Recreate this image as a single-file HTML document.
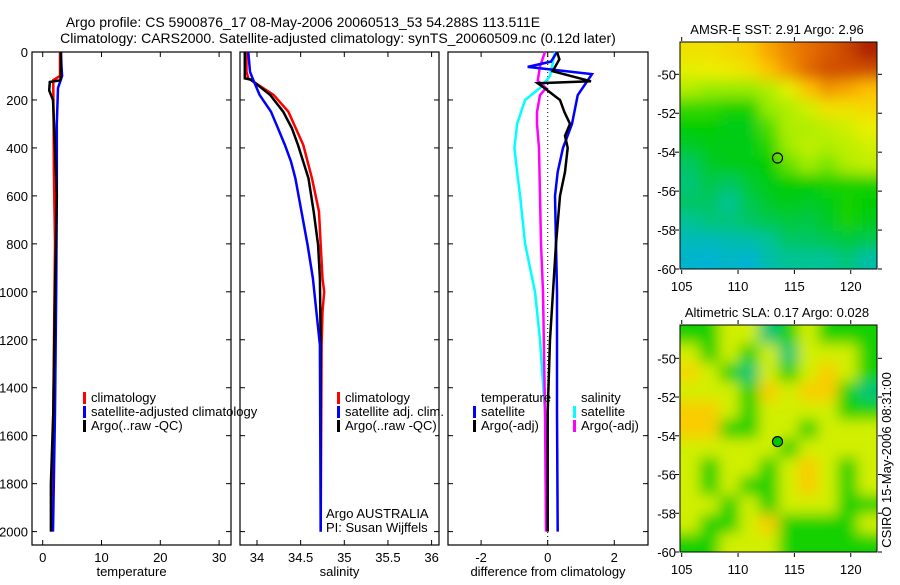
<!DOCTYPE html>
<html><head><meta charset="utf-8"><style>
body{margin:0;background:#fff;}
svg text{font-family:"Liberation Sans",sans-serif;fill:#000;}
</style></head><body>
<svg id="fig" xmlns="http://www.w3.org/2000/svg" width="900" height="580" viewBox="0 0 900 580">
<text x="303" y="27" font-size="14" text-anchor="middle">Argo profile: CS 5900876_17 08-May-2006 20060513_53 54.288S 113.511E</text>
<text x="338" y="43" font-size="14" text-anchor="middle">Climatology: CARS2000. Satellite-adjusted climatology: synTS_20060509.nc (0.12d later)</text>
<defs>
<filter id="blur" filterUnits="userSpaceOnUse" x="600" y="0" width="300" height="580"><feGaussianBlur stdDeviation="7"/></filter>
<clipPath id="c1"><rect x="680" y="42" width="197" height="227"/></clipPath>
<clipPath id="c2"><rect x="680" y="325" width="197" height="227"/></clipPath>
</defs>
<g id="plots"></g>
</svg>
<script>
// ---- data ----
const depthTicks=[0,200,400,600,800,1000,1200,1400,1600,1800,2000];
const tempTicks=[0,10,20,30];
const salTicks=[34,34.5,35,35.5,36];
const salTickLabels=["34","34.5","35","35.5","36"];
const diffTicks=[-2,0,2];
// temperature profiles
const tClimDepth=[0,100,117,150,300,500,800,1000,1500,2000];
const tClimVal=[2.95,2.95,1.8,1.8,1.85,1.9,2.1,2.0,1.8,1.5];
const tSatDepth=[0,60,100,150,300,600,1000,1500,2000];
const tSatVal=[3.1,3.2,3.3,2.6,2.4,2.4,2.3,2.1,1.75];
const tArgoDepth=[0,100,118,125,160,200,400,600,1000,1500,1800,2000];
const tArgoVal=[3.1,3.1,3.0,1.2,1.1,1.75,2.1,2.4,2.1,1.8,1.4,1.4];
// salinity profiles
const sClimDepth=[0,82,110,179,249,388,527,666,805,944,1000,1083,1222,2000];
const sClimVal=[33.88,33.88,33.9,34.19,34.36,34.53,34.63,34.71,34.73,34.75,34.77,34.75,34.74,34.73];
const sArgoDepth=[0,110,115,179,249,318,388,527,666,805,944,1222,2000];
const sArgoVal=[33.86,33.86,33.93,34.15,34.3,34.4,34.47,34.59,34.65,34.7,34.72,34.73,34.73];
const sSatDepth=[0,82,110,179,249,318,388,457,527,666,805,944,1083,1222,2000];
const sSatVal=[33.9,33.92,33.95,34.03,34.16,34.24,34.32,34.39,34.44,34.51,34.58,34.64,34.68,34.72,34.73];
// differences
const dTSatDepth=[0,40,62,92,180,300,400,500,600,1000,1500,2000];
const dTSatVal=[0.28,0.1,-0.6,1.33,0.9,0.73,0.46,0.3,0.22,0.28,0.28,0.3];
const dTArgoDepth=[0,30,80,122,130,150,200,250,300,350,400,500,600,800,1000,1200,1500,2000];
const dTArgoVal=[0.28,0.35,0.15,1.3,-0.3,-0.1,0.37,0.5,0.67,0.52,0.6,0.52,0.37,0.25,0.16,0.07,0.0,0.0];
const dSSatDepth=[0,100,150,200,300,400,500,600,800,1000,1200,1500,2000];
const dSSatVal=[0.22,0.07,-0.23,-0.68,-0.92,-1.0,-0.92,-0.83,-0.68,-0.38,-0.23,-0.08,0.0];
const dSArgoDepth=[0,60,120,150,180,250,300,400,600,800,1000,1500,2000];
const dSArgoVal=[-0.08,-0.23,-0.3,-0.05,-0.23,-0.32,-0.32,-0.26,-0.23,-0.2,-0.14,-0.08,-0.05];
// maps (rows: north->south, cols: west->east), normalised colour index
const sstGrid=[
[.68,.68,.7,.72,.78,.82,.85,.88,.92,.98],
[.64,.65,.66,.68,.74,.8,.86,.9,.9,.9],
[.58,.55,.55,.55,.58,.64,.74,.8,.78,.75],
[.45,.45,.42,.42,.55,.58,.62,.68,.68,.7],
[.4,.4,.38,.38,.48,.58,.58,.6,.62,.65],
[.36,.38,.38,.38,.44,.56,.6,.58,.6,.62],
[.3,.36,.38,.38,.4,.5,.56,.52,.58,.6],
[.28,.33,.3,.35,.38,.4,.4,.42,.42,.42],
[.3,.3,.25,.32,.36,.38,.36,.38,.42,.4],
[.25,.28,.28,.3,.32,.34,.33,.36,.42,.38],
[.15,.15,.18,.2,.25,.3,.3,.32,.34,.32],
[.1,.08,.12,.08,.2,.25,.25,.25,.28,.2]];
const slaGrid=[
[.42,.42,.62,.62,.28,.42,.62,.42,.42,.42],
[.62,.42,.62,.42,.62,.28,.62,.62,.62,.42],
[.7,.62,.42,.28,.62,.42,.62,.72,.62,.42],
[.62,.62,.62,.42,.72,.62,.72,.72,.42,.28],
[.72,.72,.62,.42,.62,.62,.62,.62,.42,.42],
[.72,.72,.42,.42,.62,.62,.42,.62,.62,.62],
[.62,.62,.62,.62,.62,.42,.62,.62,.62,.62],
[.62,.42,.62,.62,.42,.62,.72,.62,.42,.62],
[.62,.42,.62,.42,.42,.62,.72,.62,.42,.62],
[.62,.62,.42,.62,.42,.62,.62,.62,.42,.42],
[.62,.42,.42,.62,.72,.42,.42,.42,.42,.62],
[.42,.42,.62,.62,.62,.42,.42,.42,.42,.42]];
const mapLonTicks=[105,110,115,120];
const mapLatTicks=[-50,-52,-54,-56,-58,-60];
const argoLon=113.5, argoLat=-54.3;

const NS="http://www.w3.org/2000/svg";
const root=document.getElementById('plots');
function mk(tag,attrs,parent){const e=document.createElementNS(NS,tag);for(const k in attrs)e.setAttribute(k,attrs[k]);(parent||root).appendChild(e);return e;}
function txt(s,attrs,parent){const e=mk('text',attrs,parent);e.textContent=s;return e;}
const yDepth=d=>52+d*0.2398;
const PB=545;
function panel(name,x0,x1,xs,ticks,labels,xlabel){
  const g=mk('g',{});
  
  
  const f=mk('rect',{x:x0,y:52,width:x1-x0,height:PB-52,fill:'none',stroke:'#000','stroke-width':1.2},g);
  
  
  ticks.forEach((t,i)=>{
    const x=xs(t);
    mk('line',{x1:x,x2:x,y1:PB,y2:PB-5,stroke:'#000'},g);
    mk('line',{x1:x,x2:x,y1:52,y2:57,stroke:'#000'},g);
    const l=txt(labels[i],{x:x,y:PB+17,'font-size':13,'text-anchor':'middle'},g);
    
    
  });
  depthTicks.forEach(d=>{const y=yDepth(d);
    mk('line',{x1:x0,x2:x0+5,y1:y,y2:y,stroke:'#000'},g);
    mk('line',{x1:x1,x2:x1-5,y1:y,y2:y,stroke:'#000'},g);});
  const xl=txt(xlabel,{x:(x0+x1)/2,y:576,'font-size':13,'text-anchor':'middle'},g);
  
  
  return g;
}
function line(g,xs,depths,vals,color,name){
  const pts=depths.map((d,i)=>xs(vals[i]).toFixed(1)+','+yDepth(d).toFixed(1)).join(' ');
  const p=mk('polyline',{points:pts,fill:'none',stroke:color,'stroke-width':2.5},g);
  
  
}
function legend(g,x,y,color,label,name){
  mk('rect',{x:x,y:y-10,width:3,height:12,fill:color},g);
  if(label){const t=txt(label,{x:x+8,y:y,'font-size':13},g);
    
    }
}
// panel 1
const xT=v=>42.7+v*5.88;
const g1=panel('temperature-panel',32,231,xT,tempTicks,tempTicks.map(String),'temperature');
depthTicks.forEach(d=>{const l=txt(String(d),{x:28,y:yDepth(d)+5,'font-size':13,'text-anchor':'end'},g1);
  
  });
line(g1,xT,tClimDepth,tClimVal,'#f00','temp-climatology-line');
line(g1,xT,tSatDepth,tSatVal,'#00f','temp-satellite-line');
line(g1,xT,tArgoDepth,tArgoVal,'#000','temp-argo-line');
legend(g1,83,402,'#f00','climatology','legend-climatology');
legend(g1,83,416,'#00f','satellite-adjusted climatology','legend-satellite');
legend(g1,83,430,'#000','Argo(..raw -QC)','legend-argo');
// panel 2
const xS=v=>257+(v-34)*87.3;
const g2=panel('salinity-panel',240,439,xS,salTicks,salTickLabels,'salinity');
line(g2,xS,sClimDepth,sClimVal,'#f00','sal-climatology-line');
line(g2,xS,sArgoDepth,sArgoVal,'#000','sal-argo-line');
line(g2,xS,sSatDepth,sSatVal,'#00f','sal-satellite-line');
mk('rect',{x:330,y:390,width:105,height:48,fill:'#fff'},g2);
legend(g2,337,402,'#f00','climatology','legend-climatology-sal');
legend(g2,337,416,'#00f','satellite adj. clim.','legend-satellite-sal');
legend(g2,337,430,'#000','Argo(..raw -QC)','legend-argo-sal');
const a1=txt('Argo AUSTRALIA',{x:326,y:518,'font-size':13},g2);

const a2=txt('PI: Susan Wijffels',{x:326,y:532,'font-size':13},g2);

// panel 3
const xD=v=>547.7+v*33.3;
const g3=panel('difference-panel',448,648,xD,diffTicks,diffTicks.map(String),'difference from climatology');
mk('line',{x1:xD(0),x2:xD(0),y1:52,y2:PB,stroke:'#000','stroke-dasharray':'1,3'},g3);
line(g3,xD,dSSatDepth,dSSatVal,'#0ff','diff-sal-satellite-line');
line(g3,xD,dSArgoDepth,dSArgoVal,'#f0f','diff-sal-argo-line');
line(g3,xD,dTSatDepth,dTSatVal,'#00f','diff-temp-satellite-line');
line(g3,xD,dTArgoDepth,dTArgoVal,'#000','diff-temp-argo-line');
const lt=txt('temperature',{x:481,y:402,'font-size':13},g3);

legend(g3,473,416,'#00f','satellite','legend-temp-satellite');
legend(g3,473,430,'#000','Argo(-adj)','legend-temp-argo');
const ls=txt('salinity',{x:581,y:402,'font-size':13},g3);

legend(g3,573,416,'#0ff','satellite','legend-sal-satellite');
legend(g3,573,430,'#f0f','Argo(-adj)','legend-sal-argo');

// maps
const stops=[[0,[0,170,240]],[0.25,[0,195,150]],[0.4,[0,205,0]],[0.55,[150,235,0]],[0.65,[235,240,0]],[0.75,[255,190,0]],[0.85,[230,110,0]],[1,[165,20,0]]];
function cmap(v){for(let i=1;i<stops.length;i++){if(v<=stops[i][0]){const a=stops[i-1],b=stops[i];const t=(v-a[0])/(b[0]-a[0]);
  return 'rgb('+a[1].map((c,k)=>Math.round(c+(b[1][k]-c)*t)).join(',')+')';}}return 'rgb(165,20,0)';}
function map(name,top,lat50,grid,title,filled,clip){
  const x0=680,x1=877,bot=top+227;
  const xL=lon=>681.7+(lon-105)*11.27;
  const yL=lat=>lat50+(-50-lat)*((bot-lat50)/10);
  const g=mk('g',{});
  
  
  const t=txt(title,{x:777,y:top-8,'font-size':13,'text-anchor':'middle'},g);
  
  const cg=mk('g',{'clip-path':'url(#'+clip+')'},g);
  const img=mk('g',{filter:'url(#blur)'},cg);
  const rows=grid.length,cols=grid[0].length,cw=(x1-x0)/cols,ch=(bot-top)/rows;
  for(let i=-1;i<=rows;i++)for(let j=-1;j<=cols;j++){
    const v=grid[Math.min(rows-1,Math.max(0,i))][Math.min(cols-1,Math.max(0,j))];
    mk('rect',{x:x0+j*cw,y:top+i*ch,width:cw+0.5,height:ch+0.5,fill:cmap(v)},img);}
  const fr=mk('rect',{x:x0,y:top,width:x1-x0,height:bot-top,fill:'none',stroke:'#000'},g);
  
  mapLonTicks.forEach(l=>{const x=xL(l);mk('line',{x1:x,x2:x,y1:bot+1,y2:bot+5,stroke:'#000'},g);mk('line',{x1:x,x2:x,y1:top-1,y2:top-5,stroke:'#000'},g);
    const tl=txt(String(l),{x:x,y:bot+22,'font-size':13,'text-anchor':'middle'},g);
    });
  mapLatTicks.forEach(l=>{const y=yL(l);mk('line',{x1:x0-1,x2:x0-5,y1:y,y2:y,stroke:'#000'},g);mk('line',{x1:x1+1,x2:x1+5,y1:y,y2:y,stroke:'#000'},g);
    const tl=txt(String(l),{x:676,y:y+5,'font-size':13,'text-anchor':'end'},g);
    });
  const c=mk('circle',{cx:xL(argoLon),cy:yL(argoLat),r:5,fill:filled?'#00c800':'none',stroke:'#000','stroke-width':1.2},g);
  
}
map('sst-map',42,74.3,sstGrid,'AMSR-E SST: 2.91  Argo: 2.96',false,'c1');
map('sla-map',325,358.3,slaGrid,'Altimetric SLA: 0.17  Argo: 0.028',true,'c2');
const cs=txt('CSIRO 15-May-2006 08:31:00',{x:0,y:0,'font-size':13,'text-anchor':'middle',transform:'translate(891,460) rotate(-90)'});

</script>
</body></html>
